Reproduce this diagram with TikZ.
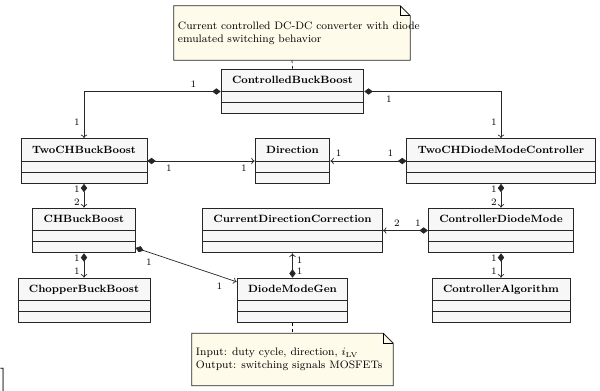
\documentclass[tikz,border=0pt]{standalone}
\usetikzlibrary{arrows.meta,backgrounds}
\definecolor{notebg}{RGB}{255,251,234}
\definecolor{classbg}{RGB}{247,247,247}
\tikzset{
  umlclass/.style={draw=black!85, line width=0.6pt, fill=classbg,
    inner xsep=0.275cm, inner ysep=0pt, text height=0.37cm, text depth=0.75cm,
    font=\fontsize{7.5}{9}\selectfont\bfseries,
    path picture={
      \draw[line width=0.6pt, black!85]
        ([yshift=-0.56cm]path picture bounding box.north west) -- ([yshift=-0.56cm]path picture bounding box.north east)
        ([yshift=-0.84cm]path picture bounding box.north west) -- ([yshift=-0.84cm]path picture bounding box.north east);
    }},
  umlnote/.style={inner xsep=0.1cm, inner ysep=0pt, align=flush left,
    font=\fontsize{7.7}{9.2}\selectfont},
  notebox/.style={draw=black!85, line width=0.6pt, fill=notebg},
  comp/.style={{Diamond[length=6pt,width=4.5pt]}-{To[length=2.5pt,width=4.5pt]},
    line width=0.5pt, draw=black!85},
  mult/.style={font=\scriptsize, inner sep=2.8pt},
  notelink/.style={dash pattern=on 2pt off 2pt, line width=0.5pt}
}
\begin{document}
\begin{tikzpicture}[x=0.025cm, y=-0.025cm]
      \useasboundingbox (0,0) rectangle (600,390);
      % notes
      \node[umlnote, text width=5.7cm, minimum height=1.35cm] (note1) at (292,33)
        {\mbox{Current controlled DC-DC converter with diode}\\\mbox{emulated switching behavior}};
      \node[umlnote, text width=4.825cm, minimum height=1.3cm] (note2) at (292.5,359.5)
        {\mbox{Input: duty cycle, direction, $i_{\mathrm{LV}}$}\\\mbox{Output: switching signals MOSFETs}};
      \begin{scope}[on background layer]
        \foreach \n in {note1,note2}
          \draw[notebox] (\n.south west) -- (\n.north west)
            -- ([xshift=-0.25cm]\n.north east) -- ([yshift=-0.25cm]\n.north east)
            -- (\n.south east) -- cycle;
      \end{scope}
      \foreach \n in {note1,note2}
        \draw[line width=0.5pt] ([xshift=-0.25cm]\n.north east) |- ([yshift=-0.25cm]\n.north east);
      % classes
      \node[umlclass] (cbb) at (292.5,91.5) {ControlledBuckBoost};
      \node[umlclass] (twochbb) at (84,161) {TwoCHBuckBoost};
      \node[umlclass] (direction) at (292.5,161) {Direction};
      \node[umlclass] (twochdmc) at (501,161) {TwoCHDiodeModeController};
      \node[umlclass] (chbb) at (84,230.5) {CHBuckBoost};
      \node[umlclass] (cdc) at (292.5,230.5) {CurrentDirectionCorrection};
      \node[umlclass] (cdm) at (501,230.5) {ControllerDiodeMode};
      \node[umlclass] (chopper) at (84,300.5) {ChopperBuckBoost};
      \node[umlclass] (dmg) at (292.5,300.5) {DiodeModeGen};
      \node[umlclass] (ca) at (501,300.5) {ControllerAlgorithm};
      \node[font=\LARGE, anchor=north east, inner sep=0pt] (stray) at (6.5,368) {]};
      % note links
      \draw[notelink] (note1.south) -- (cbb.north);
      \draw[notelink] (dmg.south) -- (note2.north);
      % compositions
      \begin{scope}[comp]
        \draw (cbb.west) -| (twochbb.north) node[mult, pos=0.1, above] {1} node[mult, pos=0.83, left] {1};
        \draw (cbb.east) -| (twochdmc.north) node[mult, pos=0.09, below] {1} node[mult, pos=0.83, left] {1};
        \draw (twochbb.east) -- (direction.west) node[mult, pos=0.2, below] {1} node[mult, pos=0.9, below] {1};
        \draw (twochdmc.west) -- (direction.east) node[mult, pos=0.21, above] {1} node[mult, pos=0.89, above] {1};
        \draw (twochbb.south) -- (chbb.north) node[mult, pos=0.24, left] {1} node[mult, pos=0.76, left] {2};
        \draw (twochdmc.south) -- (cdm.north) node[mult, pos=0.24, left] {1} node[mult, pos=0.76, left] {2};
        \draw (cdm.west) -- (cdc.east) node[mult, pos=0.22, above] {1} node[mult, pos=0.69, above] {2};
        \draw (chbb.south) -- (chopper.north) node[mult, pos=0.2, left] {1} node[mult, pos=0.72, left] {1};
        \draw (cdm.south) -- (ca.north) node[mult, pos=0.2, left] {1} node[mult, pos=0.72, left] {1};
        \draw (chbb) -- (dmg) node[mult, pos=0.13, below=2pt] {1} node[mult, pos=0.83, below=2pt] {1};
        \draw (dmg.north) -- (cdc.south) node[mult, pos=0.28, right] {1} node[mult, pos=0.72, right] {1};
      \end{scope}
    \end{tikzpicture}
\end{document}
